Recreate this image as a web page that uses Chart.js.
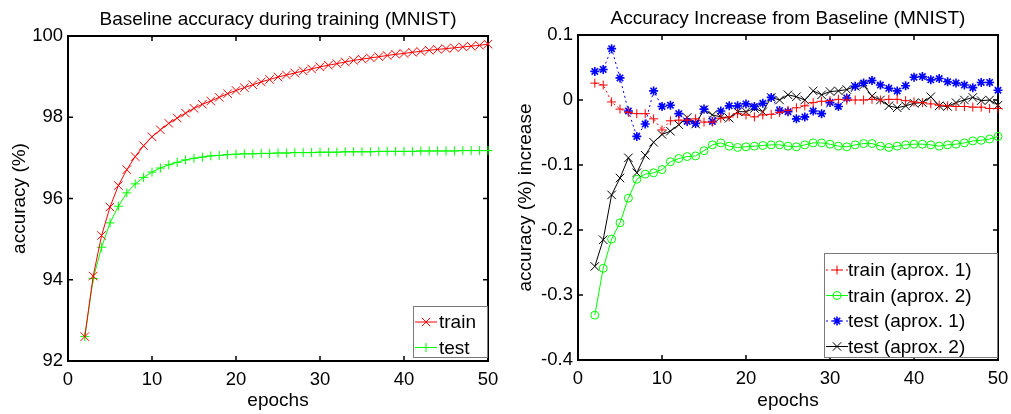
<!DOCTYPE html>
<html>
<head>
<meta charset="utf-8">
<title>MNIST accuracy</title>
<script src="https://cdn.jsdelivr.net/npm/chart.js@4.4.1/dist/chart.umd.min.js"></script>
<style>
  html, body { margin: 0; padding: 0; background: #fff; }
  #wrap { position: relative; width: 1011px; height: 414px; overflow: hidden; }
  .panel { position: absolute; top: 0; height: 414px; }
  canvas { display: block; }
</style>
</head>
<body>
<div id="wrap">
  <div class="panel" style="left:0;width:505px"><canvas id="leftChart" width="505" height="414"></canvas></div>
  <div class="panel" style="left:505px;width:506px"><canvas id="rightChart" width="506" height="414"></canvas></div>
</div>
<script>
// ---- data ----
const epochs = [2, 3, 4, 5, 6, 7, 8, 9, 10, 11, 12, 13, 14, 15, 16, 17, 18, 19, 20,
  21, 22, 23, 24, 25, 26, 27, 28, 29, 30, 31, 32, 33, 34, 35, 36, 37, 38, 39, 40,
  41, 42, 43, 44, 45, 46, 47, 48, 49, 50];

// left panel: baseline accuracy (%)
const baseTrain = [92.60, 94.09, 95.09, 95.79, 96.32, 96.71, 97.03, 97.30, 97.52, 97.69,
  97.85, 97.98, 98.10, 98.22, 98.32, 98.40, 98.49, 98.58, 98.66, 98.73, 98.80, 98.87,
  98.93, 98.99, 99.04, 99.09, 99.14, 99.19, 99.24, 99.28, 99.32, 99.36, 99.40, 99.43,
  99.46, 99.49, 99.52, 99.55, 99.57, 99.60, 99.62, 99.65, 99.67, 99.69, 99.71, 99.73,
  99.75, 99.77, 99.80];
const baseTest = [92.60, 94.03, 94.80, 95.40, 95.81, 96.14, 96.36, 96.52, 96.65, 96.75,
  96.83, 96.89, 96.95, 96.99, 97.02, 97.05, 97.06, 97.08, 97.09, 97.10, 97.10, 97.11,
  97.11, 97.12, 97.12, 97.13, 97.13, 97.13, 97.14, 97.14, 97.14, 97.15, 97.15, 97.15,
  97.15, 97.16, 97.16, 97.16, 97.16, 97.16, 97.17, 97.17, 97.17, 97.17, 97.17, 97.18,
  97.18, 97.18, 97.18];

// right panel: accuracy increase from baseline
const incTrain1 = [0.026, 0.023, -0.003, -0.014, -0.019, -0.021, -0.021, -0.029, -0.046, -0.032,
  -0.031, -0.031, -0.029, -0.034, -0.034, -0.028, -0.026, -0.021, -0.023, -0.026, -0.023,
  -0.022, -0.019, -0.016, -0.012, -0.009, -0.004, -0.002, -0.001, 0.001, 0.000, 0.000,
  0.000, 0.001, 0.000, 0.001, 0.001, -0.001, -0.003, -0.004, -0.006, -0.008, -0.009,
  -0.010, -0.010, -0.011, -0.011, -0.013, -0.013];
const incTrain2 = [-0.331, -0.259, -0.214, -0.189, -0.151, -0.122, -0.114, -0.112, -0.107, -0.095,
  -0.090, -0.087, -0.086, -0.078, -0.069, -0.066, -0.071, -0.073, -0.072, -0.071, -0.070,
  -0.069, -0.069, -0.071, -0.072, -0.069, -0.066, -0.066, -0.068, -0.071, -0.072, -0.069,
  -0.067, -0.067, -0.071, -0.073, -0.071, -0.069, -0.068, -0.068, -0.069, -0.071, -0.069,
  -0.068, -0.066, -0.063, -0.062, -0.060, -0.056];
const incTest1 = [0.044, 0.047, 0.079, 0.034, -0.017, -0.056, -0.037, 0.014, -0.010, -0.008,
  -0.021, -0.033, -0.036, -0.014, -0.033, -0.017, -0.009, -0.009, -0.006, -0.010, -0.005,
  0.004, -0.016, -0.018, -0.029, -0.026, -0.017, -0.021, -0.004, -0.010, 0.003, 0.021,
  0.026, 0.030, 0.023, 0.018, 0.014, 0.022, 0.035, 0.036, 0.031, 0.033, 0.028, 0.026,
  0.023, 0.019, 0.027, 0.027, 0.015];
const incTest2 = [-0.256, -0.215, -0.146, -0.120, -0.089, -0.112, -0.085, -0.065, -0.053, -0.048,
  -0.038, -0.027, -0.037, -0.015, -0.023, -0.026, -0.028, -0.018, -0.018, -0.013, -0.018,
  0.004, 0.000, 0.008, 0.005, 0.000, 0.014, 0.008, 0.013, 0.014, 0.016, 0.021, 0.023,
  0.006, 0.000, -0.009, -0.012, -0.009, -0.005, -0.004, 0.005, -0.009, -0.010, -0.004,
  0.000, 0.004, -0.001, 0.000, -0.008];

const leftTitle = 'Baseline accuracy during training (MNIST)';
const rightTitle = 'Accuracy Increase from Baseline (MNIST)';

// ---- styling ----
const FONT = '"Liberation Sans", Arial, Helvetica, sans-serif';
Chart.defaults.font.family = FONT;
Chart.defaults.font.size = 18.5;
Chart.defaults.color = '#000';

const pts = vals => epochs.map((e, i) => ({ x: e, y: vals[i] }));

function series(label, vals, color, style, radius, dashed, markerWidth) {
  return {
    label,
    data: pts(vals),
    borderColor: color,
    borderWidth: 1,
    borderDash: dashed ? [2, 3] : [],
    pointStyle: style,
    pointRadius: radius,
    pointBorderColor: color,
    pointBackgroundColor: 'rgba(0,0,0,0)',
    pointBorderWidth: markerWidth || 1,
    tension: 0,
    clip: false
  };
}

// matlab-ish box with inward ticks on all sides
const framePlugin = {
  id: 'frame',
  beforeDatasetsDraw(chart) {
    const { ctx, chartArea: a, scales: { x, y } } = chart;
    ctx.save();
    ctx.strokeStyle = '#000';
    ctx.lineWidth = 1.5;
    ctx.beginPath();
    x.ticks.forEach(t => {
      const px = x.getPixelForValue(t.value);
      ctx.moveTo(px, a.bottom); ctx.lineTo(px, a.bottom - 5);
      ctx.moveTo(px, a.top); ctx.lineTo(px, a.top + 5);
    });
    y.ticks.forEach(t => {
      const py = y.getPixelForValue(t.value);
      ctx.moveTo(a.left, py); ctx.lineTo(a.left + 5, py);
      ctx.moveTo(a.right, py); ctx.lineTo(a.right - 5, py);
    });
    ctx.stroke();
    ctx.lineWidth = 2;
    ctx.strokeRect(a.left, a.top, a.right - a.left, a.bottom - a.top);
    ctx.restore();
  }
};

// legend box in the lower right corner, line sample + marker + label
const boxLegendPlugin = {
  id: 'boxLegend',
  afterDraw(chart, args, opts) {
    const { ctx, chartArea: a } = chart;
    const dsets = chart.data.datasets;
    const left = a.right - opts.inset - opts.width;
    const top = a.bottom - opts.bottomInset - opts.height;
    ctx.save();
    ctx.fillStyle = '#fff';
    ctx.fillRect(left, top, opts.width, opts.height);
    ctx.strokeStyle = '#7a7a7a';
    ctx.lineWidth = 1;
    ctx.strokeRect(left + 0.5, top + 0.5, opts.width, opts.height);
    dsets.forEach((ds, i) => {
      const yy = top + opts.first + i * opts.rowH;
      const x0 = left + 2, x1 = left + 24;
      ctx.strokeStyle = ds.borderColor;
      ctx.lineWidth = 1;
      ctx.setLineDash(ds.borderDash);
      ctx.beginPath();
      ctx.moveTo(x0, yy); ctx.lineTo(x1, yy);
      ctx.stroke();
      ctx.setLineDash([]);
      ctx.lineWidth = ds.pointBorderWidth;
      ctx.fillStyle = 'rgba(0,0,0,0)';
      Chart.helpers.drawPoint(ctx, {
        pointStyle: ds.pointStyle, radius: ds.pointRadius, rotation: 0, borderWidth: 1
      }, (x0 + x1) / 2, yy);
      ctx.fillStyle = '#000';
      ctx.font = '19px ' + FONT;
      ctx.textAlign = 'left';
      ctx.textBaseline = 'middle';
      ctx.fillText(ds.label, left + opts.textX, yy + 1);
    });
    ctx.restore();
  }
};

function makeOptions(title, yTitle, yMin, yMax, yStep, sizes, legend) {
  return {
    responsive: false,
    animation: false,
    events: [],
    layout: { padding: { top: 0, right: sizes.right, bottom: 0, left: 0 } },
    plugins: {
      legend: { display: false },
      tooltip: { enabled: false },
      title: {
        display: true,
        text: title,
        fullSize: false,
        color: '#000',
        font: { size: 19, weight: 'normal', lineHeight: 1.2 },
        padding: { top: sizes.titleTop, bottom: sizes.titleBottom }
      },
      boxLegend: legend
    },
    scales: {
      x: {
        type: 'linear',
        min: 0, max: 50,
        grid: { display: false, drawTicks: false },
        border: { display: false },
        ticks: { stepSize: 10, padding: 8, color: '#000' },
        title: { display: true, text: 'epochs', color: '#000', font: { size: 19 }, padding: { top: 0, bottom: 1.6 } },
        afterFit(scale) {
          scale.height = sizes.xHeight;
          scale.paddingLeft = 0;
          scale.paddingRight = 0;
        }
      },
      y: {
        min: yMin, max: yMax,
        grid: { display: false, drawTicks: false },
        border: { display: false },
        ticks: { stepSize: yStep, padding: 5, color: '#000' },
        title: { display: true, text: yTitle, color: '#000', font: { size: 19 }, padding: { top: sizes.yTitlePad, bottom: 0 } },
        afterFit(scale) {
          scale.width = sizes.yWidth;
          scale.paddingTop = 0;
          scale.paddingBottom = 0;
        }
      }
    }
  };
}

new Chart(document.getElementById('leftChart'), {
  type: 'line',
  data: {
    datasets: [
      series('train', baseTrain, '#ff0000', 'crossRot', 6, false),
      series('test', baseTest, '#00ff00', 'cross', 4.5, false)
    ]
  },
  options: makeOptions(leftTitle, 'accuracy (%)', 92, 100, 2,
    { right: 17, yWidth: 68, xHeight: 53, titleTop: 8, titleBottom: 5.2, yTitlePad: 8.6 },
    { width: 74, height: 51, inset: 1, bottomInset: 4, first: 16, rowH: 25.5, textX: 26 }),
  plugins: [framePlugin, boxLegendPlugin]
});

new Chart(document.getElementById('rightChart'), {
  type: 'line',
  data: {
    datasets: [
      series('train (aprox. 1)', incTrain1, '#ff0000', 'cross', 4.5, true),
      series('train (aprox. 2)', incTrain2, '#00ff00', 'circle', 4, false),
      series('test (aprox. 1)', incTest1, '#0000ff', 'star', 4.5, true, 1.6),
      series('test (aprox. 2)', incTest2, '#000000', 'crossRot', 6, false)
    ]
  },
  options: makeOptions(rightTitle, 'accuracy (%) increase', -0.4, 0.1, 0.1,
    { right: 13, yWidth: 73, xHeight: 54, titleTop: 7, titleBottom: 5.2, yTitlePad: 9.6 },
    { width: 173, height: 104, inset: 1, bottomInset: 3, first: 17, rowH: 25.5, textX: 24 }),
  plugins: [framePlugin, boxLegendPlugin]
});
</script>
</body>
</html>
